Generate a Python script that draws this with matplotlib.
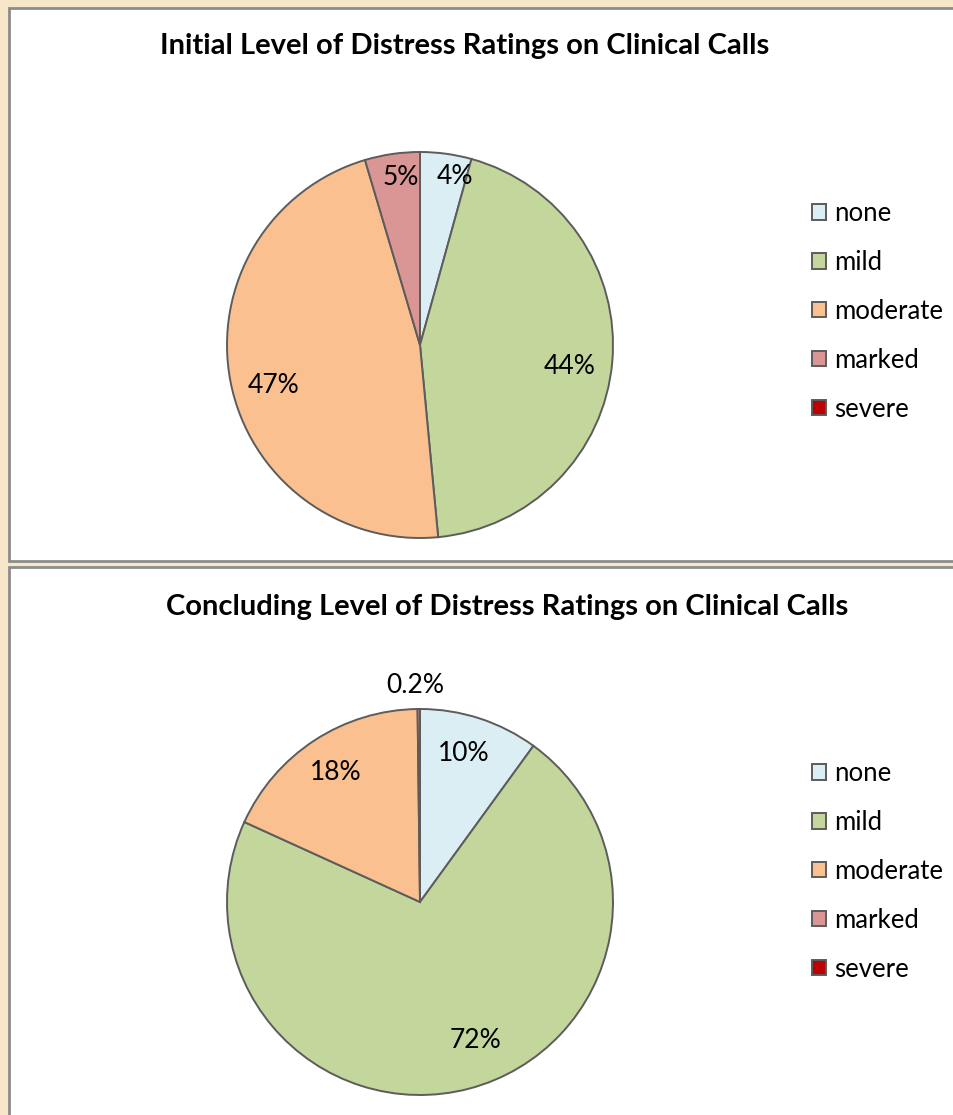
import matplotlib
matplotlib.use("Agg")
import matplotlib.pyplot as plt
from matplotlib.patches import Rectangle
import numpy as np

categories = ["none", "mild", "moderate", "marked", "severe"]
initial_values = [4.3, 44.2, 46.9, 4.6, 0.0]
initial_labels = ["4%", "44%", "47%", "5%", ""]
concluding_values = [10.0, 71.8, 18.0, 0.2, 0.0]
concluding_labels = ["10%", "72%", "18%", "0.2%", ""]
colors = ["#DAEEF3", "#C3D69B", "#FAC090", "#D99694", "#C00000"]
titles = ["Initial Level of Distress Ratings on Clinical Calls",
          "Concluding Level of Distress Ratings on Clinical Calls"]

# label placement style: (radial distance, angle shift in degrees from wedge middle)
initial_label_style = [(0.89, 4.0), (0.785, 3.0), (0.79, -4.6), (0.876, 1.8), (0.8, 0)]
concluding_label_style = [(0.805, -1.5), (0.77, -7.0), (0.80, 0.0), (1.12, -1.0), (0.8, 0)]

W, H = 954, 1115
fig = plt.figure(figsize=(W / 100, H / 100), dpi=100)
fig.patch.set_facecolor("#F6E7C9")
plt.rcParams['font.family'] = ['Lato', 'DejaVu Sans']

def fx(x):
    return x / W

def fy(y):
    return 1 - y / H

# panels (pixel boxes: left, top, right, bottom)
panels = [(9, 8, 960, 561), (9, 567, 960, 1125)]
for (l, t, r, b) in panels:
    fig.patches.append(Rectangle((fx(l), fy(b)), fx(r - l), (b - t) / H,
                                 transform=fig.transFigure, facecolor="white",
                                 edgecolor="#8C8C8C", linewidth=2, zorder=-5))

centers = [(420, 345), (420, 902)]
radius = 193
title_pos = [(465, 46), (507, 607)]
legend_top = [(812, 201), (812, 761)]

datasets = [(initial_values, initial_labels, initial_label_style),
            (concluding_values, concluding_labels, concluding_label_style)]
for i, (vals, labs, styles) in enumerate(datasets):
    cx, cy = centers[i]
    ax = fig.add_axes([fx(cx - radius), fy(cy + radius), 2 * radius / W, 2 * radius / H])
    wedges, _ = ax.pie(vals, colors=colors, startangle=90, counterclock=False,
                       wedgeprops=dict(edgecolor="#5C5C5C", linewidth=1.4))
    ax.set_xlim(-1, 1)
    ax.set_ylim(-1, 1)
    ax.set_aspect("equal")
    ax.axis("off")
    total = sum(vals)
    cum = 0.0
    for v, lab, (d, shift) in zip(vals, labs, styles):
        frac = v / total
        mid = cum + frac / 2
        cum += frac
        if not lab:
            continue
        ang = np.deg2rad(90 - (360 * mid + shift))
        ax.text(d * np.cos(ang), d * np.sin(ang), lab, ha="center", va="center",
                fontsize=19, color="black")
    tx, ty = title_pos[i]
    fig.text(fx(tx), fy(ty), titles[i], ha="center", va="center",
             fontsize=21, fontweight="bold")
    lx, ly = legend_top[i]
    fig.legend(wedges, categories, loc="upper left",
               bbox_to_anchor=(fx(lx), fy(ly)), frameon=False,
               fontsize=18.5, handlelength=0.55, handleheight=0.55,
               handletextpad=0.3, labelspacing=0.93, borderpad=0, borderaxespad=0)

fig.savefig("out.png", dpi=100, facecolor=fig.get_facecolor())
